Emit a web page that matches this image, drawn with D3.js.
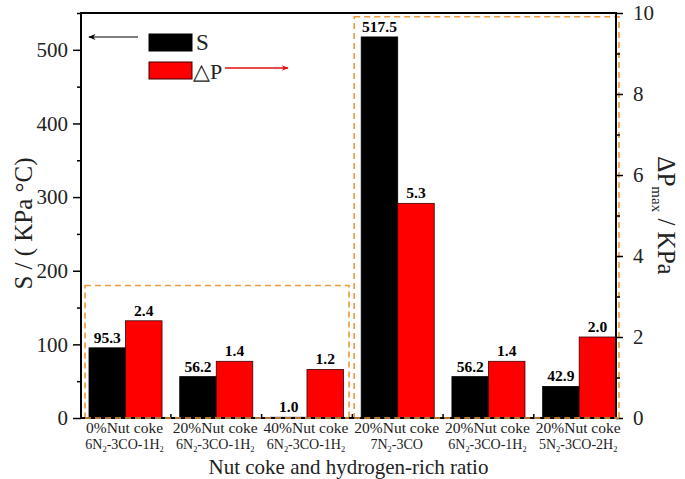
<!DOCTYPE html>
<html>
<head>
<meta charset="utf-8">
<script src="https://cdn.jsdelivr.net/npm/d3@7/dist/d3.min.js"></script>
<style>
  html, body { margin: 0; padding: 0; background: #fff; }
  svg { display: block; }
</style>
</head>
<body>
<svg id="chart" width="685" height="479"></svg>
<script>
// ---- data ----
const catLine1 = ["0%Nut coke", "20%Nut coke", "40%Nut coke", "20%Nut coke", "20%Nut coke", "20%Nut coke"];
const catLine2 = ["6N_2-3CO-1H_2", "6N_2-3CO-1H_2", "6N_2-3CO-1H_2", "7N_2-3CO", "6N_2-3CO-1H_2", "5N_2-3CO-2H_2"];
const sValues = [95.3, 56.2, 1.0, 517.5, 56.2, 42.9];
const dpValues = [2.4, 1.4, 1.2, 5.3, 1.4, 2.0];
const leftTicks = [0, 100, 200, 300, 400, 500];
const leftMinor = [50, 150, 250, 350, 450, 550];
const rightTicks = [0, 2, 4, 6, 8, 10];
const rightMinor = [1, 3, 5, 7, 9];

// ---- layout ----
const L = 81, R = 616, T = 13, B = 418;
const FONT = '"Liberation Serif", "Times New Roman", serif';
const svg = d3.select("#chart");

const yL = d3.scaleLinear().domain([0, 550]).range([B, T]);
const yR = d3.scaleLinear().domain([0, 10]).range([B, T]);
const x = d3.scaleBand().domain(d3.range(catLine1.length)).range([89, 615.7]).paddingInner(0.195).paddingOuter(0);
const sub = d3.scaleBand().domain(["S", "dP"]).range([0, x.bandwidth()]);

const orange = "#EE9A3A";

const boxes = [
  { x0: x(0) - 4, x1: x(2) + x.bandwidth() + 5.5, top: yL(180) },
  { x0: x(3) - 7, x1: x(5) + x.bandwidth() + 3.3, top: yL(545) }
];

// bars
const g = svg.append("g");
catLine1.forEach((c, i) => {
  g.append("rect")
    .attr("x", x(i) + sub("S")).attr("y", yL(sValues[i]))
    .attr("width", sub.bandwidth()).attr("height", B - yL(sValues[i]))
    .attr("fill", "#000").attr("stroke", "#000").attr("stroke-width", 0.8);
  g.append("rect")
    .attr("x", x(i) + sub("dP")).attr("y", yR(dpValues[i]))
    .attr("width", sub.bandwidth()).attr("height", B - yR(dpValues[i]))
    .attr("fill", "#FF0000").attr("stroke", "#3a0000").attr("stroke-width", 0.8);
  g.append("text")
    .attr("x", x(i) + sub("S") + sub.bandwidth() / 2).attr("y", yL(sValues[i]) - 5)
    .attr("text-anchor", "middle").attr("font-size", 15.5).attr("font-weight", "bold")
    .text(sValues[i].toFixed(1));
  g.append("text")
    .attr("x", x(i) + sub("dP") + sub.bandwidth() / 2).attr("y", yR(dpValues[i]) - 5)
    .attr("text-anchor", "middle").attr("font-size", 15.5).attr("font-weight", "bold")
    .text(dpValues[i].toFixed(1));
});

boxes.forEach(b => {
  svg.append("rect")
    .attr("x", b.x0).attr("y", b.top)
    .attr("width", b.x1 - b.x0).attr("height", B - b.top)
    .attr("fill", "none").attr("stroke", orange)
    .attr("stroke-width", 1.6).attr("stroke-dasharray", "6,4");
});

// axes
svg.append("g").attr("transform", `translate(${L},0)`)
  .call(d3.axisLeft(yL).tickValues(leftTicks).tickSize(8).tickPadding(5).tickFormat(d3.format("d")));
svg.append("g").attr("transform", `translate(${L},0)`)
  .call(d3.axisLeft(yL).tickValues(leftMinor).tickSize(4).tickFormat(""));
svg.append("g").attr("transform", `translate(${R},0)`)
  .call(d3.axisRight(yR).tickValues(rightTicks).tickSize(7).tickPadding(10).tickFormat(d3.format("d")));
svg.append("g").attr("transform", `translate(${R},0)`)
  .call(d3.axisRight(yR).tickValues(rightMinor).tickSize(4).tickFormat(""));

svg.selectAll(".domain").remove();
svg.selectAll(".tick line").attr("stroke", "#000").attr("stroke-width", 1.5);
svg.selectAll(".tick text").attr("font-size", 21).attr("fill", "#222");

// bottom axis inward ticks between groups
const mids = d3.range(1, catLine1.length).map(i => (x(i - 1) + x.bandwidth() + x(i)) / 2);
svg.append("g").selectAll("line").data(mids).join("line")
  .attr("x1", d => d).attr("x2", d => d).attr("y1", B).attr("y2", B - 4)
  .attr("stroke", "#000").attr("stroke-width", 1.5);

// frame
svg.append("rect").attr("x", L).attr("y", T).attr("width", R - L).attr("height", B - T)
  .attr("fill", "none").attr("stroke", "#000").attr("stroke-width", 2);
boxes.forEach(b => {
  svg.append("line").attr("x1", b.x0).attr("x2", b.x1).attr("y1", B).attr("y2", B)
    .attr("stroke", orange).attr("stroke-width", 1.6).attr("stroke-dasharray", "6,4");
});

// category labels
function addSubText(sel, str, fs) {
  const parts = str.split(/(_\d)/).filter(p => p.length);
  let shifted = false;
  parts.forEach(p => {
    if (p.startsWith("_")) {
      sel.append("tspan").attr("font-size", fs * 0.6).attr("dy", 3).text(p.slice(1));
      shifted = true;
    } else {
      sel.append("tspan").attr("dy", shifted ? -3 : 0).text(p);
      shifted = false;
    }
  });
}
catLine1.forEach((c, i) => {
  const cx = x(i) + x.bandwidth() / 2 - 1;
  svg.append("text").attr("x", cx).attr("y", 433).attr("text-anchor", "middle")
    .attr("font-size", 15.5).attr("fill", "#222").text(c);
  const t2 = svg.append("text").attr("x", cx).attr("y", 449).attr("text-anchor", "middle")
    .attr("font-size", 14).attr("fill", "#222");
  addSubText(t2, catLine2[i], 14);
});

// axis titles
svg.append("text").attr("x", (L + R) / 2).attr("y", 474).attr("text-anchor", "middle")
  .attr("font-size", 21).attr("fill", "#222").text("Nut coke and hydrogen-rich ratio");

svg.append("text").attr("transform", `translate(32,${(T + B) / 2 + 8}) rotate(-90)`)
  .attr("text-anchor", "middle").attr("font-size", 25).attr("fill", "#222")
  .text("S / ( KPa °C)");

const rt = svg.append("text").attr("transform", `translate(658,${(T + B) / 2}) rotate(90)`)
  .attr("text-anchor", "middle").attr("font-size", 25).attr("fill", "#222");
rt.append("tspan").text("ΔP");
rt.append("tspan").attr("font-size", 15).attr("dy", 6).text("max");
rt.append("tspan").attr("dy", -6).text(" /  KPa");

// legend
const defs = svg.append("defs");
defs.append("marker").attr("id", "arrBlack").attr("viewBox", "0 0 10 10")
  .attr("refX", 9).attr("refY", 5).attr("markerWidth", 9).attr("markerHeight", 6)
  .attr("orient", "auto")
  .append("path").attr("d", "M0,1 L10,5 L0,9 L3,5 Z").attr("fill", "#000");
defs.append("marker").attr("id", "arrRed").attr("viewBox", "0 0 10 10")
  .attr("refX", 9).attr("refY", 5).attr("markerWidth", 9).attr("markerHeight", 5)
  .attr("orient", "auto")
  .append("path").attr("d", "M0,1 L10,5 L0,9 L3,5 Z").attr("fill", "#E01010");

svg.append("rect").attr("x", 149).attr("y", 34).attr("width", 43).attr("height", 17)
  .attr("fill", "#000").attr("stroke", "#000");
svg.append("rect").attr("x", 149).attr("y", 62).attr("width", 43).attr("height", 17)
  .attr("fill", "#FF0000").attr("stroke", "#3a0000");
svg.append("text").attr("x", 196).attr("y", 50).attr("font-size", 23).attr("fill", "#222").text("S");
svg.append("text").attr("x", 193).attr("y", 79).attr("font-size", 22).attr("fill", "#222").text("△P");

svg.append("line").attr("x1", 138).attr("y1", 37).attr("x2", 89).attr("y2", 37)
  .attr("stroke", "#000").attr("stroke-width", 1.2).attr("marker-end", "url(#arrBlack)");
svg.append("line").attr("x1", 225).attr("y1", 68).attr("x2", 288).attr("y2", 68)
  .attr("stroke", "#E01010").attr("stroke-width", 1.4).attr("marker-end", "url(#arrRed)");

svg.selectAll("text").style("font-family", FONT);
</script>
</body>
</html>
